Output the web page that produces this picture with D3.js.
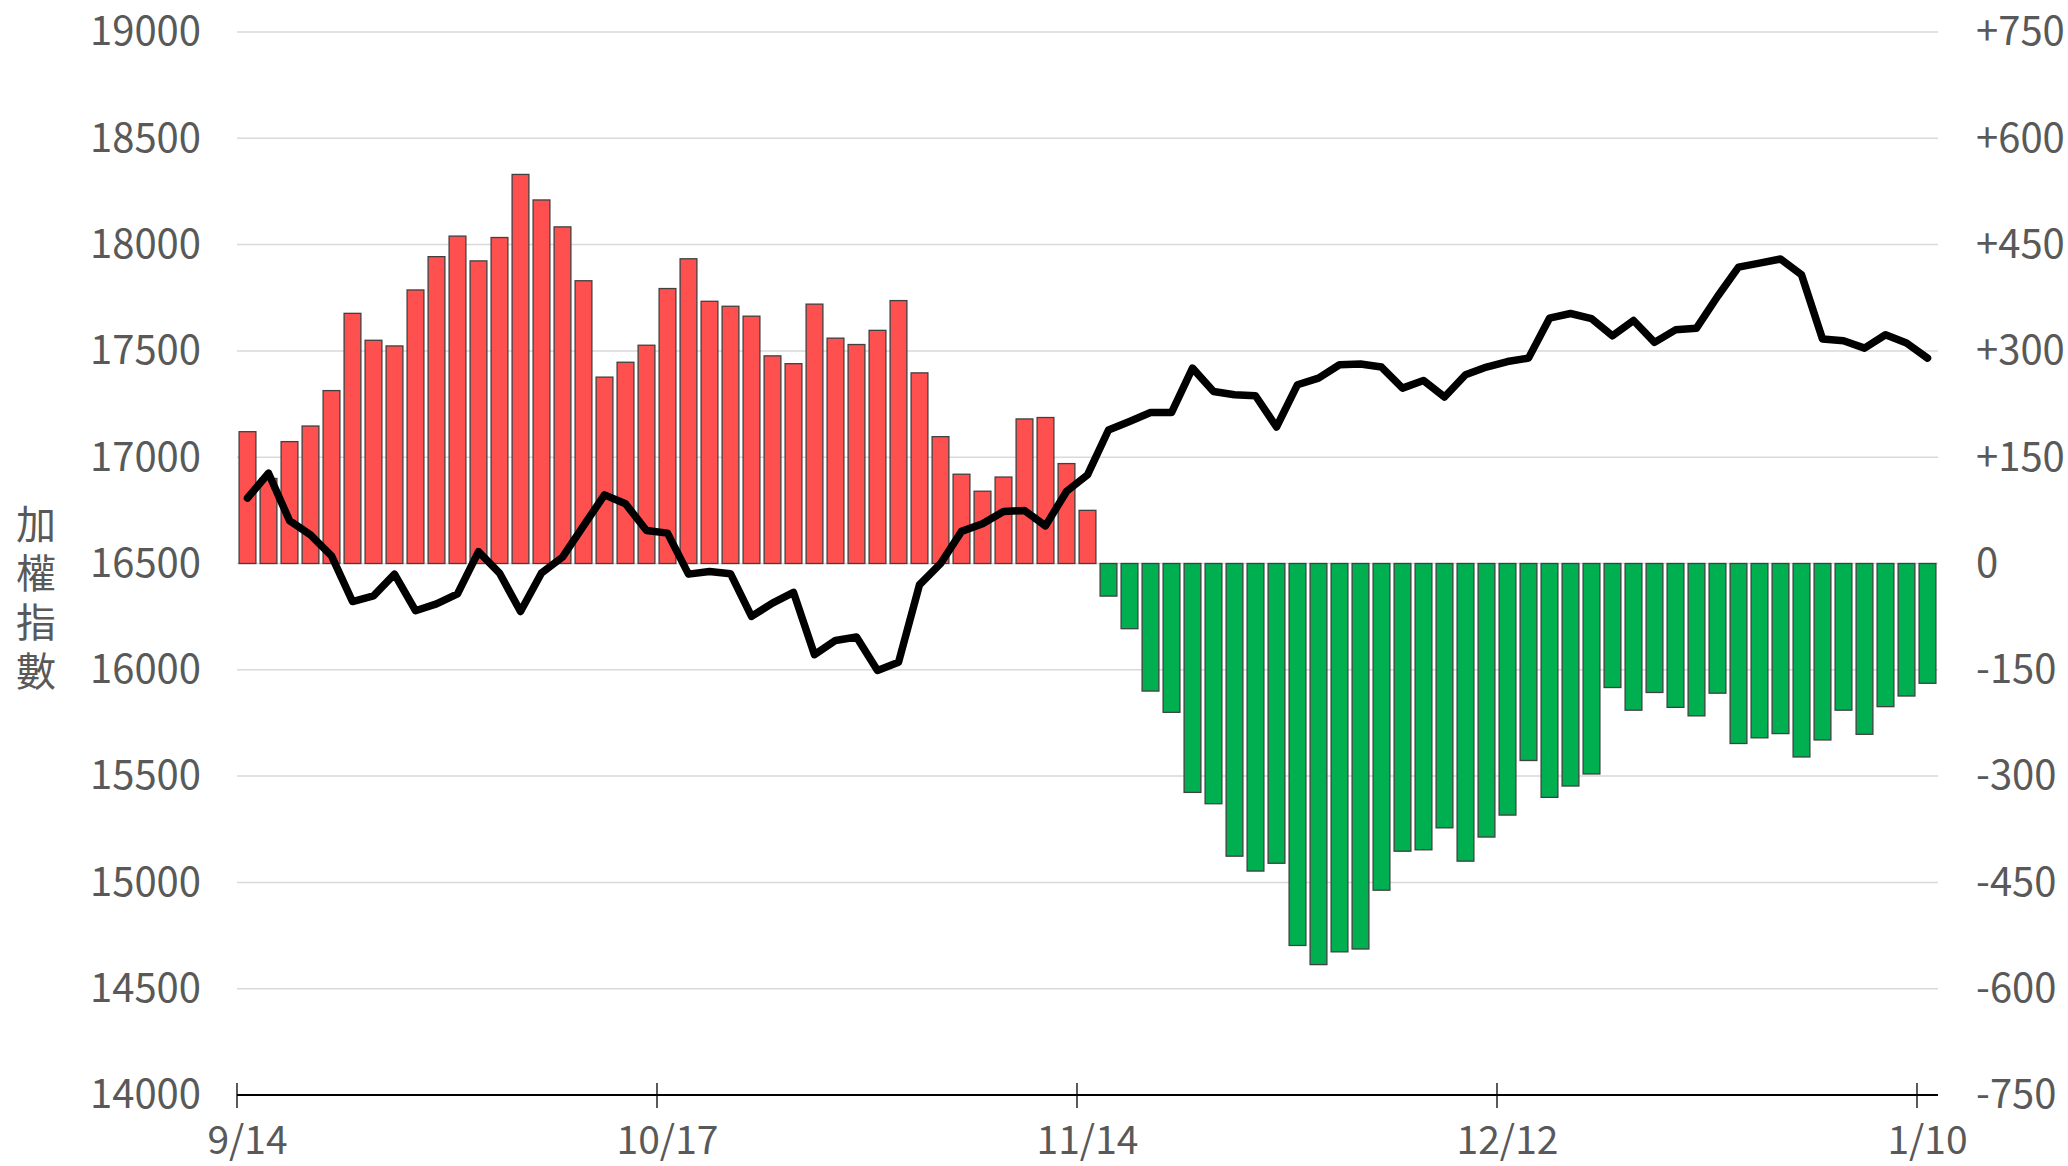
<!DOCTYPE html>
<html>
<head>
<meta charset="utf-8">
<script src="https://cdn.jsdelivr.net/npm/d3@7"></script>
<style>
  body { margin: 0; background: #fff; }
  text { font-family: "Noto Sans CJK TC", "Noto Sans", sans-serif; fill: #595959; }
</style>
</head>
<body>
<div id="chart-area"></div>
<script>
// trading days, 9/14 -> 1/10
let dates = ["9/14","9/15","9/18","9/19","9/20","9/21","9/22","9/25","9/26","9/27",
  "9/28","10/2","10/3","10/4","10/5","10/6","10/11","10/12","10/13","10/16",
  "10/17","10/18","10/19","10/20","10/23","10/24","10/25","10/26","10/27","10/30",
  "10/31","11/1","11/2","11/3","11/6","11/7","11/8","11/9","11/10","11/13",
  "11/14","11/15","11/16","11/17","11/20","11/21","11/22","11/23","11/24","11/27",
  "11/28","11/29","11/30","12/1","12/4","12/5","12/6","12/7","12/8","12/11",
  "12/12","12/13","12/14","12/15","12/18","12/19","12/20","12/21","12/22","12/25",
  "12/26","12/27","12/28","12/29","1/2","1/3","1/4","1/5","1/8","1/9","1/10"];

// bars (right axis)
let diffValues = [186,120,172,194,244,353,315,307,386,433,
  462,427,460,549,513,475,399,263,284,308,
  388,430,370,363,349,293,282,366,318,309,
  329,371,269,179,126,102,122,204,206,141,
  75,-46,-92,-180,-210,-323,-339,-413,-434,-423,
  -539,-566,-548,-544,-461,-406,-404,-373,-420,-386,
  -355,-278,-330,-314,-297,-175,-207,-182,-203,-215,
  -183,-254,-246,-240,-273,-249,-207,-241,-202,-187,-169];

// line (left axis)
let indexValues = [16808,16925,16702,16635,16536,16321,16348,16450,16278,16310,
  16357,16556,16455,16274,16455,16530,16677,16823,16781,16655,
  16643,16450,16462,16452,16251,16314,16364,16071,16138,16154,
  15997,16035,16400,16499,16651,16687,16745,16749,16677,16839,
  16917,17128,17168,17210,17210,17419,17309,17294,17289,17142,
  17341,17372,17435,17438,17424,17325,17361,17283,17388,17424,
  17450,17466,17654,17676,17652,17571,17643,17540,17599,17607,
  17756,17894,17913,17932,17858,17556,17548,17513,17576,17537,17466];

let leftTicks = [14000,14500,15000,15500,16000,16500,17000,17500,18000,18500,19000];
let rightTicks = [-750,-600,-450,-300,-150,0,150,300,450,600,750];
let dateTicks = ["9/14","10/17","11/14","12/12","1/10"];

let width = 2068, height = 1166;
let plot = {left: 237, right: 1938, top: 32, bottom: 1095};

let svg = d3.select("#chart-area")
  .append("svg")
  .attr("width", width)
  .attr("height", height);

let x = d3.scaleBand()
  .domain(dates)
  .range([plot.left, plot.right])
  .paddingInner(0.2)
  .paddingOuter(0.1);

let yLeft = d3.scaleLinear()
  .domain([14000, 19000])
  .range([plot.bottom, plot.top]);

let yRight = d3.scaleLinear()
  .domain([-750, 750])
  .range([plot.bottom, plot.top]);

// gridlines
svg.append("g")
  .selectAll("line")
  .data(leftTicks.slice(1))
  .enter()
  .append("line")
  .attr("x1", plot.left)
  .attr("x2", plot.right)
  .attr("y1", d => yLeft(d))
  .attr("y2", d => yLeft(d))
  .attr("stroke", "#d9d9d9")
  .attr("stroke-width", 1.5);

// left axis labels
let yAxisL = d3.axisLeft(yLeft)
  .tickValues(leftTicks)
  .tickSize(0)
  .tickPadding(0)
  .tickFormat(d3.format("d"));
svg.append("g")
  .attr("class", "axis y-left")
  .attr("transform", "translate(201,0)")
  .call(yAxisL)
  .call(g => g.select(".domain").remove())
  .selectAll("text")
  .attr("font-size", 40)
  .attr("fill", "#595959");

// right axis labels
let yAxisR = d3.axisRight(yRight)
  .tickValues(rightTicks)
  .tickSize(0)
  .tickPadding(0)
  .tickFormat(d => d > 0 ? "+" + d : (d < 0 ? "-" + Math.abs(d) : "0"));
svg.append("g")
  .attr("class", "axis y-right")
  .attr("transform", "translate(1976,0)")
  .call(yAxisR)
  .call(g => g.select(".domain").remove())
  .selectAll("text")
  .attr("font-size", 40)
  .attr("fill", "#595959");

// bars
svg.append("g")
  .selectAll("rect")
  .data(diffValues)
  .enter()
  .append("rect")
  .attr("x", (d, i) => x(dates[i]))
  .attr("width", x.bandwidth())
  .attr("y", d => yRight(Math.max(0, d)))
  .attr("height", d => Math.abs(yRight(d) - yRight(0)))
  .attr("fill", d => d >= 0 ? "#ff5050" : "#00b050")
  .attr("stroke", "#404040")
  .attr("stroke-width", 1.3);

// index line
let line = d3.line()
  .x((d, i) => x(dates[i]) + x.bandwidth() / 2)
  .y(d => yLeft(d));

svg.append("path")
  .datum(indexValues)
  .attr("d", line)
  .attr("fill", "none")
  .attr("stroke", "#000")
  .attr("stroke-width", 7.5)
  .attr("stroke-linejoin", "round")
  .attr("stroke-linecap", "round");

// x axis
let step = x.step();
let xAxisGroup = svg.append("g").attr("class", "axis x-axis");

xAxisGroup.append("line")
  .attr("x1", plot.left)
  .attr("x2", plot.right)
  .attr("y1", plot.bottom)
  .attr("y2", plot.bottom)
  .attr("stroke", "#000")
  .attr("stroke-width", 2);

xAxisGroup.selectAll(".tick-mark")
  .data(dateTicks)
  .enter()
  .append("line")
  .attr("class", "tick-mark")
  .attr("x1", d => x(d) - step * 0.1)
  .attr("x2", d => x(d) - step * 0.1)
  .attr("y1", plot.bottom - 12)
  .attr("y2", plot.bottom + 13)
  .attr("stroke", "#000")
  .attr("stroke-width", 1.3);

xAxisGroup.selectAll(".tick-label")
  .data(dateTicks)
  .enter()
  .append("text")
  .attr("class", "tick-label")
  .attr("x", d => x(d) + x.bandwidth() / 2)
  .attr("y", 1140)
  .attr("dy", "0.35em")
  .attr("text-anchor", "middle")
  .attr("font-size", 39)
  .text(d => d);

// y axis title, written vertically
svg.append("text")
  .attr("x", 36)
  .attr("y", 504)
  .attr("font-size", 40)
  .style("writing-mode", "vertical-rl")
  .style("letter-spacing", "9px")
  .text("加權指數");
</script>
</body>
</html>
